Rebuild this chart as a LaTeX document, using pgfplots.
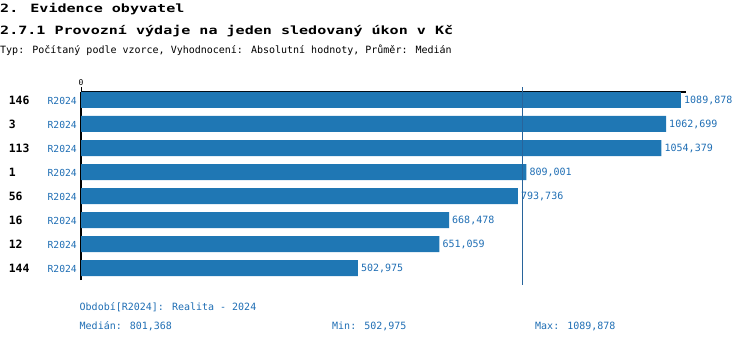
\documentclass[border=0pt]{standalone}
\usepackage{pgfplots}
\pgfplotsset{compat=1.18}
\usepackage{fontspec}
\setmainfont{DejaVu Sans Mono}
\setmonofont{DejaVu Sans Mono}
\newfontfamily\widefont[FakeStretch=1.32]{DejaVu Sans Mono}
\definecolor{barblue}{RGB}{31,119,180}
\definecolor{txtblue}{RGB}{31,110,180}
\definecolor{medblue}{RGB}{40,100,155}
\newcommand{\rowlab}[1]{\makebox[68bp][l]{\fontsize{11.4bp}{13bp}\selectfont\bfseries #1\hfill\mdseries\fontsize{9.7bp}{11bp}\selectfont\textcolor{txtblue}{R2024}}}
\begin{document}
\begin{tikzpicture}[x=1bp,y=1bp]
\useasboundingbox (0,0) rectangle (750,-344);
\node[anchor=base west, inner sep=0pt, font=\widefont\bfseries\fontsize{11.4bp}{13bp}\selectfont] at (0,-12.5) {2. Evidence obyvatel};
\node[anchor=base west, inner sep=0pt, font=\widefont\bfseries\fontsize{11.4bp}{13bp}\selectfont] at (0,-34) {2.7.1 Provozní výdaje na jeden sledovaný úkon v Kč};
\node[anchor=base west, inner sep=0pt, font=\fontsize{10bp}{12bp}\selectfont] at (0,-53) {Typ: Počítaný podle vzorce, Vyhodnocení: Absolutní hodnoty, Průměr: Medián};
\begin{axis}[
  at={(81bp,-92bp)}, anchor=north west,
  scale only axis, width=605bp, height=188bp,
  xmin=0, xmax=1099, ymin=-7.5, ymax=0.333,
  axis x line*=top, axis y line*=left,
  axis line style={black, line width=1.1bp, -},
  xtick={0}, xticklabels={0},
  xticklabel style={font=\fontsize{8bp}{9bp}\selectfont, inner sep=1bp},
  x tick style={black, line width=1bp},
  tick align=outside, major tick length=5bp,
  ytick={0,-1,-2,-3,-4,-5,-6,-7},
  yticklabels={{\rowlab{146}},{\rowlab{3}},{\rowlab{113}},{\rowlab{1}},{\rowlab{56}},{\rowlab{16}},{\rowlab{12}},{\rowlab{144}}},
  y tick style={draw=none},
  yticklabel style={inner sep=0pt, xshift=1bp, anchor=east},
  /pgf/number format/assume math mode=true,
  clip=false,
]
\addplot[xbar, bar width=16bp, draw=none, fill=barblue,
  nodes near coords={\pgfmathprintnumber[fixed,precision=3,zerofill,use comma,1000 sep={},assume math mode=true]{\pgfplotspointmeta}},
  point meta=x,
  every node near coord/.append style={anchor=west, inner sep=0pt, xshift=3bp, text=txtblue, font=\fontsize{10bp}{12bp}\selectfont}
] coordinates {
(1089.878,0) (1062.699,-1) (1054.379,-2) (809.001,-3) (793.736,-4) (668.478,-5) (651.059,-6) (502.975,-7)
};
\addplot[medblue, line width=1.3bp] coordinates {(801.368,0.54) (801.368,-7.71)};
\end{axis}
\node[anchor=base west, inner sep=0pt, text=txtblue, font=\fontsize{10bp}{12bp}\selectfont] at (79.5,-310) {Období[R2024]: Realita - 2024};
\node[anchor=base west, inner sep=0pt, text=txtblue, font=\fontsize{10bp}{12bp}\selectfont] at (79.5,-329.5) {Medián: 801,368};
\node[anchor=base west, inner sep=0pt, text=txtblue, font=\fontsize{10bp}{12bp}\selectfont] at (332,-329.5) {Min: 502,975};
\node[anchor=base west, inner sep=0pt, text=txtblue, font=\fontsize{10bp}{12bp}\selectfont] at (535,-329.5) {Max: 1089,878};
\end{tikzpicture}
\end{document}
